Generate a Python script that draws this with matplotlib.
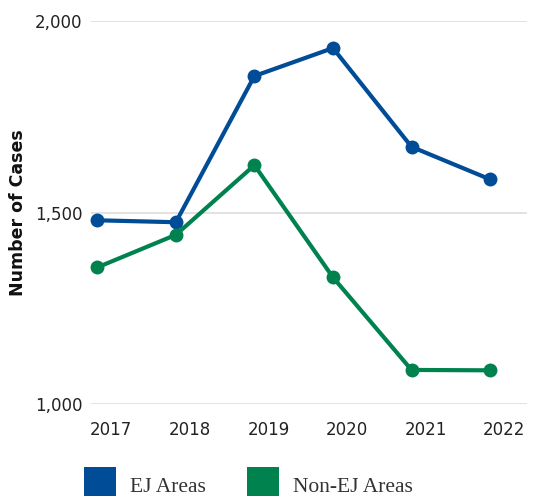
import matplotlib
matplotlib.use("Agg")
import matplotlib.pyplot as plt
import matplotlib.transforms as mtransforms
from matplotlib.patches import Rectangle

# Case counts by year
years = [2017, 2018, 2019, 2020, 2021, 2022]
ej_cases = [1480, 1475, 1857, 1930, 1672, 1587]
non_ej_cases = [1357, 1442, 1624, 1331, 1089, 1088]
series_names = ["EJ Areas", "Non-EJ Areas"]
y_ticks = [1000, 1500, 2000]
y_tick_labels = ["1,000", "1,500", "2,000"]

BLUE = "#004C97"
GREEN = "#00824F"

W, H = 535, 496
fig = plt.figure(figsize=(W / 100, H / 100), dpi=100)
ax = fig.add_axes([91 / W, 1 - 404 / H, (527 - 91) / W, (404 - 21.3) / H])

for vals, color in [(ej_cases, BLUE), (non_ej_cases, GREEN)]:
    ax.plot(years, vals, color=color, lw=3.0, marker="o", ms=9,
            solid_capstyle="round", clip_on=False, zorder=3)

ax.set_xlim(2016.92, 2022.47)
ax.set_ylim(1000, 2000)
ax.set_yticks(y_ticks)
ax.set_yticklabels(y_tick_labels)
ax.set_xticks(years)
ax.set_xticklabels([str(y) for y in years])
ax.grid(axis="y", color="#dddddd", lw=1.2)
ax.set_axisbelow(True)
for s in ax.spines.values():
    s.set_visible(False)
ax.tick_params(axis="both", length=0, labelsize=12, labelcolor="#222222")
ax.tick_params(axis="y", pad=6)
ax.tick_params(axis="x", pad=12)

# year labels sit slightly right of their points
offset = mtransforms.ScaledTranslation(14 / 100, 0, fig.dpi_scale_trans)
for lbl in ax.get_xticklabels():
    lbl.set_transform(lbl.get_transform() + offset)

fig.text(18 / W, 1 - 213 / H, "Number of Cases", rotation=90, ha="center",
         va="center", fontsize=12.5, fontweight="bold", color="#111111")

# legend swatches and labels along the bottom edge
for x0, tx, color, name in [(84, 130, BLUE, series_names[0]),
                            (246.7, 292.7, GREEN, series_names[1])]:
    fig.add_artist(Rectangle((x0 / W, 0), 32 / W, (496 - 466.7) / H,
                             transform=fig.transFigure, color=color, lw=0))
    fig.text(tx / W, 1 - 491.7 / H, name, family="Liberation Serif",
             fontsize=15.5, color="#333333", va="baseline", ha="left")

fig.savefig("out.png", dpi=100)
